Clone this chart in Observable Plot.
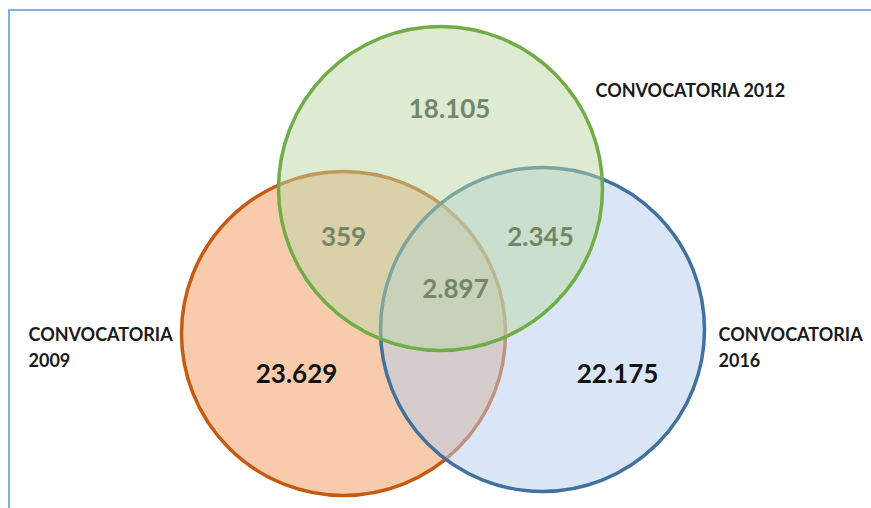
<!DOCTYPE html>
<html>
<head>
<meta charset="utf-8">
<script src="https://cdn.jsdelivr.net/npm/d3@7"></script>
<script src="https://cdn.jsdelivr.net/npm/@observablehq/plot@0.6"></script>
<style>
  html, body { margin: 0; padding: 0; background: #fff; }
  #wrap { position: relative; width: 871px; height: 508px; overflow: hidden; }
  #frame { position: absolute; left: 8px; top: 9px; width: 900px; height: 600px;
           border-left: 2px solid #7fb0e6; border-top: 2px solid #7fb0e6; }
  #chart { position: absolute; left: 0; top: 0; }
</style>
</head>
<body>
<div id="wrap"><div id="frame"></div><div id="chart"></div></div>
<script>
// ---- data ----
const sets = ["CONVOCATORIA 2009", "CONVOCATORIA 2016", "CONVOCATORIA 2012"];
const setLabels = ["CONVOCATORIA\n2009", "CONVOCATORIA\n2016", "CONVOCATORIA 2012"];
const regions = ["solo 2009", "solo 2012", "solo 2016", "2009∩2012", "2012∩2016", "2009∩2012∩2016"];
const regionValues = ["23.629", "18.105", "22.175", "359", "2.345", "2.897"];
const regionBold = [true, false, true, false, false, false];

// ---- layout (pixel space) ----
const circleX = [343, 542, 440];
const circleY = [333, 329, 188];
const circleR = 162;
const fillColors = ["#f1975b", "#b5cdeb", "#b9d7a5"];
const strokeColors = ["#c55a11", "#41719c", "#70ad47"];
const setLabelX = [28, 718, 595];
const setLabelY = [366, 366, 96];
const regionX = [296, 449, 617, 343, 540, 455];
const regionY = [382, 117, 382, 245, 245, 297];

const circles = sets.map((s, i) => ({set: s, x: circleX[i], y: circleY[i], fill: fillColors[i], stroke: strokeColors[i]}));
const labels = setLabels.map((t, i) => ({text: t, x: setLabelX[i], y: setLabelY[i]}));
const regs = regions.map((r, i) => ({region: r, value: regionValues[i], bold: regionBold[i], x: regionX[i], y: regionY[i]}));

const chart = Plot.plot({
  width: 871,
  height: 508,
  margin: 0,
  x: {domain: [0, 871], range: [0, 871], axis: null},
  y: {domain: [0, 508], range: [0, 508], axis: null},
  style: {background: "transparent"},
  marks: [
    Plot.dot(circles, {x: "x", y: "y", r: circleR, fill: "fill", fillOpacity: 0.5, stroke: "stroke", strokeWidth: 3.5}),
    Plot.text(regs.filter(d => !d.bold), {x: "x", y: "y", text: "value", lineAnchor: "bottom", textAnchor: "middle",
      fontFamily: "Lato", fontWeight: "bold", fontSize: 26, fill: "#748568"}),
    Plot.text(regs.filter(d => d.bold), {x: "x", y: "y", text: "value", lineAnchor: "bottom", textAnchor: "middle",
      fontFamily: "Lato", fontWeight: "bold", fontSize: 26, fill: "#111"}),
    Plot.text(labels, {x: "x", y: "y", text: "text", lineAnchor: "bottom", textAnchor: "start", lineHeight: 1.4,
      fontFamily: "Lato", fontWeight: "bold", fontSize: 18, fill: "#1a1a1a"})
  ]
});
document.getElementById("chart").appendChild(chart);
</script>
</body>
</html>
